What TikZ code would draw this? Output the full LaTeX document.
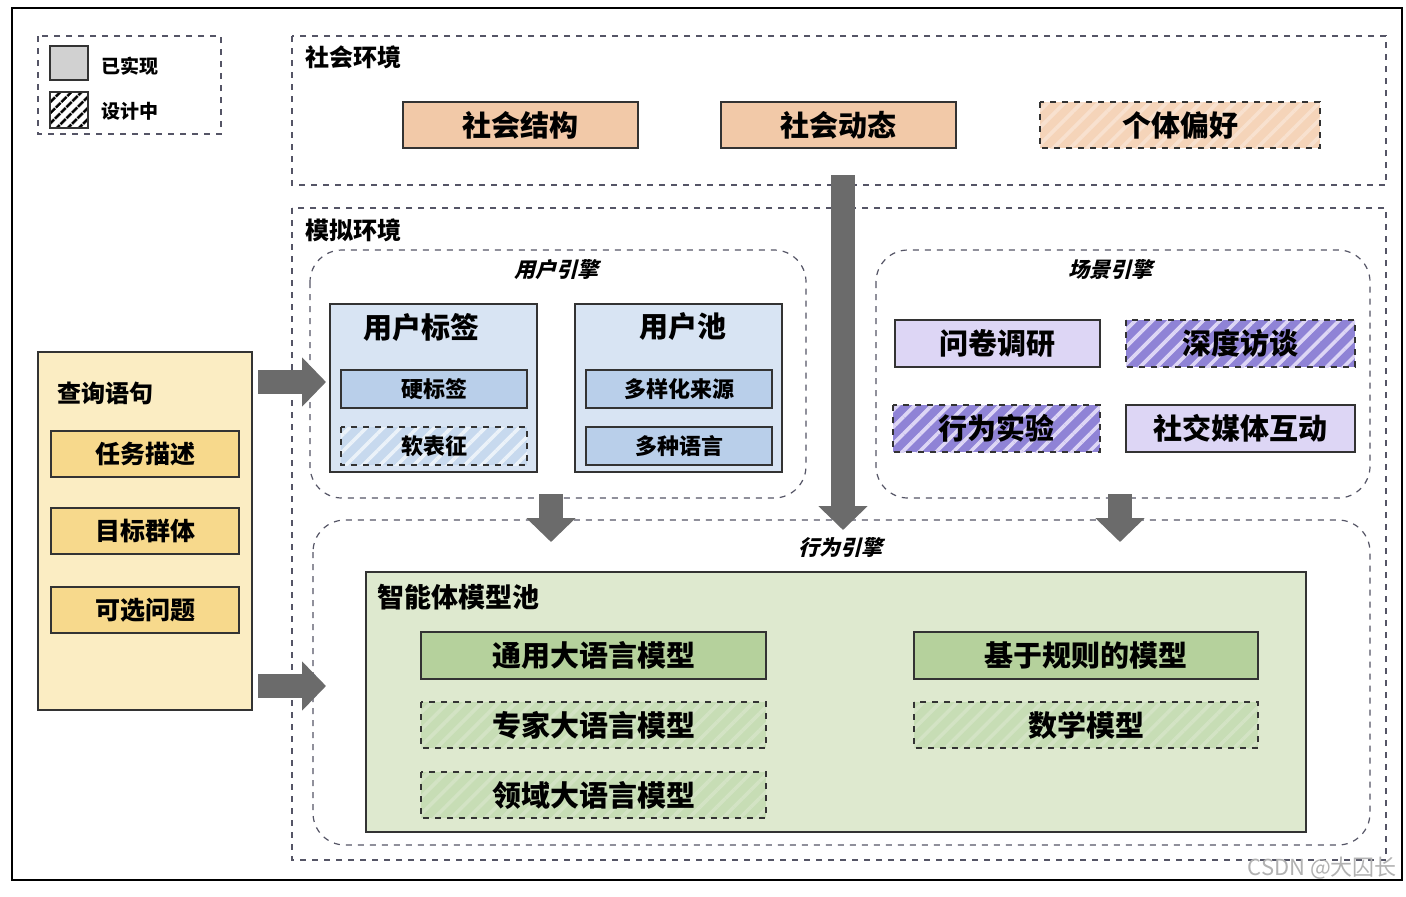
\documentclass[tikz,border=0pt]{standalone}
\usepackage{fontspec}
\setmainfont{Noto Sans CJK SC}
\usetikzlibrary{arrows.meta,patterns.meta}
\definecolor{org}{HTML}{F2C9A8}
\definecolor{blu}{HTML}{D8E4F3}
\definecolor{blu2}{HTML}{B9CFEA}
\definecolor{lav}{HTML}{DDD6F5}
\definecolor{pur}{HTML}{8F83D6}
\definecolor{grn}{HTML}{DEE9CF}
\definecolor{grn2}{HTML}{B5D19C}
\definecolor{yel}{HTML}{FBEDC3}
\definecolor{yel2}{HTML}{F7D98C}
\definecolor{dline}{HTML}{555566}
\tikzset{
  every node/.style={font=\bfseries},
  zone/.style={draw=dline,dashed,line width=0.6pt},
  rzone/.style={draw=dline,dashed,line width=0.6pt,rounded corners=16pt},
  box/.style={draw=black!80,line width=0.8pt},
  hatch/.style 2 args={solid,draw=none,preaction={fill=#2},
     pattern={Lines[angle=45,distance=6pt,line width=1.8pt]},pattern color=#1,
     postaction={draw=black!80,dashed,line width=0.8pt}},
  big/.style={font=\bfseries\fontsize{14.5}{16}\selectfont},
  mid/.style={font=\bfseries\fontsize{11}{13}\selectfont},
  ttl/.style={font=\bfseries\fontsize{12}{14}\selectfont,anchor=west},
  ital/.style={font=\bfseries\addfontfeature{FakeSlant=0.25}\fontsize{10.5}{12}\selectfont},
  bigarrow/.style={line width=12pt,-{Triangle[length=12pt,width=24pt]},color=black!58},
}
\begin{document}
\begin{tikzpicture}[x=0.5pt,y=-0.5pt]
\useasboundingbox (0,0) rectangle (1406,896);
\fill[white] (0,0) rectangle (1406,896);
\draw[line width=0.9pt] (12,8) rectangle (1402,880);
% legend
\draw[zone] (38,36) rectangle (221,134);
\draw[box,fill=black!18] (50,46) rectangle (88,80);
\draw[box,pattern={Lines[angle=45,distance=4pt,line width=1.5pt]},pattern color=black] (50,92) rectangle (88,128);
\node[anchor=west,font=\bfseries\fontsize{9.5}{11}\selectfont] (l1) at (94,66) {已实现};
\node[anchor=west,font=\bfseries\fontsize{9.5}{11}\selectfont] (l2) at (94,111) {设计中};
% social env
\draw[zone] (292,36) rectangle (1386,185);
\node[ttl] (se) at (298,57) {社会环境};
\draw[box,fill=org] (403,102) rectangle node[big] (s1) {社会结构} (638,148);
\draw[box,fill=org] (721,102) rectangle node[big] (s2) {社会动态} (956,148);
\path[hatch={white!45!org}{org!80}] (1040,102) rectangle node[big] (s3) {个体偏好} (1320,148);
% sim env
\draw[zone] (292,208) rectangle (1386,860);
\node[ttl] (me) at (298,230) {模拟环境};
% user engine
\draw[rzone] (310,250) rectangle (806,498);
\node[ital] (ue) at (556,270) {用户引擎};
\draw[box,fill=blu] (330,304) rectangle (537,472);
\node[big] (ut) at (421,327) {用户标签};
\draw[box,fill=blu2] (341,370) rectangle node[mid] (u1) {硬标签} (527,408);
\path[hatch={white!50!blu}{blu2!80}] (341,427) rectangle node[mid] (u2) {软表征} (527,465);
\draw[box,fill=blu] (575,304) rectangle (782,472);
\node[big] (up) at (683,327) {用户池};
\draw[box,fill=blu2] (586,370) rectangle node[mid] (u3) {多样化来源} (772,408);
\draw[box,fill=blu2] (586,427) rectangle node[mid] (u4) {多种语言} (772,465);
% scene engine
\draw[rzone] (876,250) rectangle (1370,498);
\node[ital] (sc) at (1110,270) {场景引擎};
\draw[box,fill=lav] (895,320) rectangle node[big] (c1) {问卷调研} (1100,367);
\path[hatch={lav}{pur}] (1126,320) rectangle node[big] (c2) {深度访谈} (1355,367);
\path[hatch={lav}{pur}] (893,405) rectangle node[big] (c3) {行为实验} (1100,452);
\draw[box,fill=lav] (1126,405) rectangle node[big] (c4) {社交媒体互动} (1355,452);
% behaviour engine
\draw[rzone] (313,520) rectangle (1370,845);
\node[ital] (be) at (840,548) {行为引擎};
\draw[box,fill=grn] (366,572) rectangle (1306,832);
\node[ttl,font=\bfseries\fontsize{13.5}{15}\selectfont] (ap) at (370,597) {智能体模型池};
\draw[box,fill=grn2] (421,632) rectangle node[big] (g1) {通用大语言模型} (766,679);
\draw[box,fill=grn2] (914,632) rectangle node[big] (g2) {基于规则的模型} (1258,679);
\path[hatch={white!40!grn2}{grn2!75}] (421,702) rectangle node[big] (g3) {专家大语言模型} (766,748);
\path[hatch={white!40!grn2}{grn2!75}] (914,702) rectangle node[big] (g4) {数学模型} (1258,748);
\path[hatch={white!40!grn2}{grn2!75}] (421,772) rectangle node[big] (g5) {领域大语言模型} (766,818);
% query
\draw[box,fill=yel] (38,352) rectangle (252,710);
\node[ttl] (q) at (50,393) {查询语句};
\draw[box,fill=yel2] (51,431) rectangle node[big,font=\bfseries\fontsize{12.5}{14}\selectfont] (q1) {任务描述} (239,477);
\draw[box,fill=yel2] (51,508) rectangle node[big,font=\bfseries\fontsize{12.5}{14}\selectfont] (q2) {目标群体} (239,554);
\draw[box,fill=yel2] (51,587) rectangle node[big,font=\bfseries\fontsize{12.5}{14}\selectfont] (q3) {可选问题} (239,633);
% arrows
\coordinate (a1s) at (258,382); \coordinate (a1e) at (326,382);
\coordinate (a2s) at (258,686); \coordinate (a2e) at (326,686);
\coordinate (a3s) at (551,494); \coordinate (a3e) at (551,542);
\coordinate (a4s) at (1120,494); \coordinate (a4e) at (1120,542);
\coordinate (a5s) at (843,175); \coordinate (a5e) at (843,530);
\foreach \s/\e in {a1s/a1e,a2s/a2e,a3s/a3e,a4s/a4e,a5s/a5e}
  \draw[bigarrow] (\s) -- (\e);
\node[font=\fontsize{11}{13}\selectfont,text=black!30,anchor=east] (wm) at (1404,868) {CSDN @大囚长};
\end{tikzpicture}
\end{document}
